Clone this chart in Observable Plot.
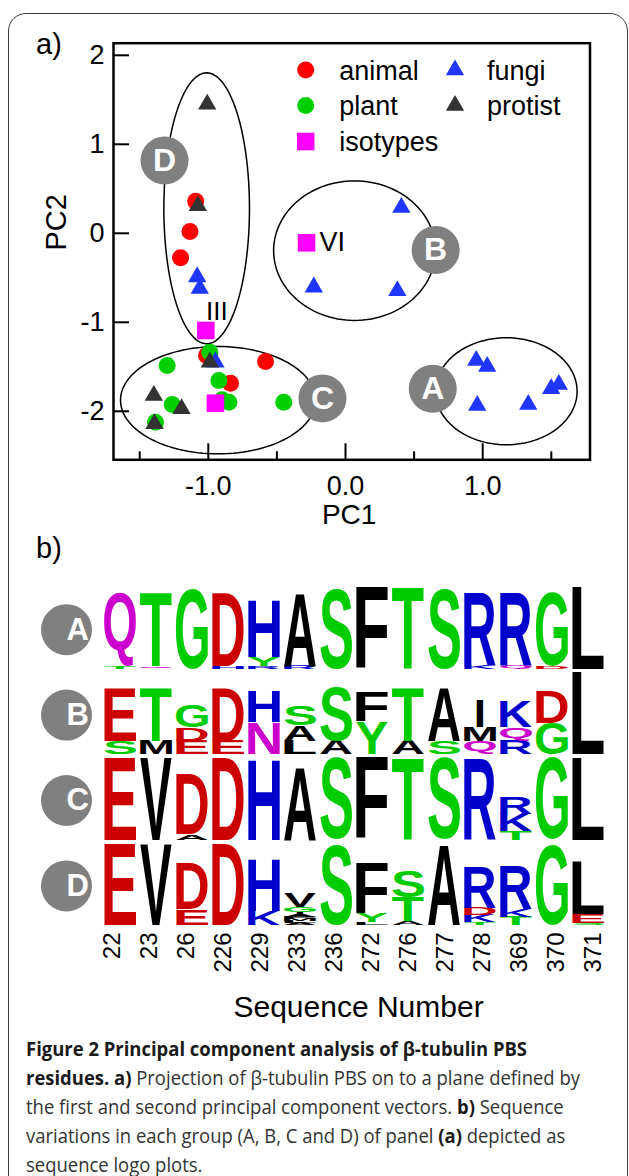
<!DOCTYPE html>
<html><head><meta charset="utf-8">
<script src="https://cdn.jsdelivr.net/npm/d3@7"></script>
<script src="https://cdn.jsdelivr.net/npm/@observablehq/plot@0.6"></script>
<style>
html,body{margin:0;padding:0;background:#fff;}
#page{position:relative;width:629px;height:1176px;overflow:hidden;background:#fff;font-family:"Liberation Sans",Arial,sans-serif;}
#border{position:absolute;left:8px;top:13px;width:620px;height:1230px;box-sizing:border-box;border:1.6px solid #3a3a3a;border-radius:18px;}
.abs{position:absolute;left:0;}
.panel{position:absolute;left:36px;font-size:29px;line-height:29px;color:#000;}
#caption{position:absolute;left:26px;top:1034px;font-family:"Open Sans",sans-serif;font-size:20px;line-height:29px;color:#333;white-space:nowrap;transform-origin:0 0;}
#caption b{color:#1a1a1a;font-weight:700;}
#caption div{white-space:nowrap;}
</style></head><body><div id="page">
<div id="border"></div>
<div class="panel" style="top:30px">a)</div>
<div class="panel" style="top:534px">b)</div>
<div id="scatter" class="abs" style="top:0"></div>
<div id="legend" class="abs" style="top:0"></div>
<div id="logo" class="abs" style="top:575px"></div>
<div id="seqlab" class="abs" style="top:900px"></div>
<div id="caption">
<div><b>Figure 2 Principal component analysis of β-tubulin PBS</b></div>
<div id="capline2"><b>residues. a)</b> Projection of β-tubulin PBS on to a plane defined by</div>
<div>the first and second principal component vectors. <b>b)</b> Sequence</div>
<div>variations in each group (A, B, C and D) of panel <b>(a)</b> depicted as</div>
<div>sequence logo plots.</div>
</div>
</div>
<script>
// ---------- Panel a) data: PC1, PC2 ----------
const animal  = [[-1.092,0.36],[-1.134,0.02],[-1.202,-0.275],[-1.013,-1.373],[-0.583,-1.44],[-0.838,-1.684]];
const plant   = [[-0.989,-1.336],[-1.3,-1.485],[-0.923,-1.654],[-0.9,-1.87],[-0.85,-1.898],[-0.45,-1.898],[-1.263,-1.924],[-1.385,-2.122]];
const fungi   = [[-1.081,-0.49],[-1.062,-0.62],[-0.948,-1.448],[-0.231,-0.605],[0.407,0.29],[0.378,-0.646],
                 [0.953,-1.429],[1.033,-1.497],[0.96,-1.935],[1.332,-1.924],[1.499,-1.747],[1.555,-1.699]];
const protist = [[-1.008,1.45],[-1.076,0.31],[-0.989,-1.448],[-1.397,-1.822],[-1.195,-1.972],[-1.392,-2.14]];
const isotypes = [[-0.284,-0.107,"VI"],[-1.018,-1.092,"III"],[-0.948,-1.909,""]];
// cluster outlines (centre, radii in PC units) and their badge positions
const clusterNames = ["A","B","C","D"];
const clusterEllipse = [[1.172,-1.775,0.516,0.601],[0.066,-0.195,0.59,0.784],[-0.929,-1.875,0.711,0.603],[-1.012,0.281,0.312,1.522]];
const clusterBadge = [[0.636,-1.747],[0.657,-0.188],[-0.168,-1.855],[-1.319,0.818]];
const xTickLabels = [-1,0,1];
const xMinorTicks = [-1.5,-0.5,0.5,1.5];
const yTickLabels = [-2,-1,0,1,2];

// ---------- Panel b) data: sequence logos (bottom -> top, bits) ----------
const positions = ["22","23","26","226","229","233","236","272","276","277","278","369","370","371"];
const logoA = [
 [["T",0.14],["Q",3.89]],[["Q",0.12],["T",3.92]],[["G",4.25]],[["H",0.15],["D",3.85]],
 [["R",0.15],["Y",0.48],["H",3.0]],[["R",0.17],["A",3.85]],[["S",4.28]],[["F",4.32]],
 [["T",4.32]],[["S",4.26]],[["K",0.17],["R",3.85]],[["Q",0.17],["R",3.85]],
 [["D",0.12],["G",3.92]],[["L",4.32]]
];
const logoB = [
 [["S",0.72],["E",2.8]],[["M",0.72],["T",2.8]],[["E",0.72],["D",0.7],["G",1.18]],[["E",0.72],["D",2.77]],
 [["N",1.68],["H",1.62]],[["L",0.72],["A",0.83],["S",1.06]],[["A",0.72],["S",2.85]],[["Y",1.71],["F",1.59]],
 [["A",0.72],["T",2.83]],[["S",0.72],["A",2.8]],[["Q",0.72],["M",0.72],["I",1.41]],[["R",0.72],["Q",0.72],["K",1.35]],
 [["G",1.64],["D",1.66]],[["L",4.32]]
];
const logoC = [
 [["E",4.32]],[["V",4.32]],[["A",0.3],["D",3.18]],[["D",4.32]],
 [["H",4.25]],[["A",3.85]],[["S",4.32]],[["F",4.32]],
 [["T",4.32]],[["S",4.32]],[["R",4.3]],[["T",0.44],["K",0.94],["R",0.88]],
 [["G",4.32]],[["L",4.32]]
];
const logoD = [
 [["E",4.28]],[["V",4.28]],[["E",0.83],["D",2.47]],[["D",4.28]],
 [["K",0.74],["H",2.74]],[["A",0.1],["L",0.1],["M",0.1],["F",0.1],["A",0.1],["I",0.2],["G",0.28],["V",0.72]],
 [["S",4.28]],[["L",0.15],["Y",0.45],["F",2.7]],
 [["A",0.2],["T",1.27],["S",1.38]],[["A",4.28]],[["T",0.16],["K",0.38],["D",0.38],["R",2.2]],
 [["T",0.45],["K",0.4],["R",2.3]],[["G",4.28]],[["S",0.12],["E",0.45],["L",2.75]]
];
const logoGroups = ["A","B","C","D"];
const logos = [logoA, logoB, logoC, logoD];

// ---------- styles ----------
const COL = {animal:"#ff0000", plant:"#00d000", fungi:"#1f36ff", protist:"#333333", iso:"#ff00ff", badge:"#808080"};
const AA = {G:"#00cc00",S:"#00cc00",T:"#00cc00",Y:"#00cc00",C:"#00cc00",Q:"#cc00cc",N:"#cc00cc",
            K:"#0000cc",R:"#0000cc",H:"#0000cc",D:"#cc0000",E:"#cc0000"};
const aaColor = c => AA[c] || "#000000";
const FONT = "Liberation Sans, Arial, sans-serif";

// ---------- Panel a) ----------
const pts = (arr) => arr.map(([x,y]) => ({x,y}));
const iso = isotypes.map(([x,y,label]) => ({x,y,label}));
const clusters = clusterNames.map((n,i) => ({name:n, cx:clusterEllipse[i][0], cy:clusterEllipse[i][1], rx:clusterEllipse[i][2], ry:clusterEllipse[i][3], bx:clusterBadge[i][0], by:clusterBadge[i][1]}));
const outline = clusters.flatMap(c => d3.range(0, 120).map(k => {
  const t = 2*Math.PI*k/120; return {name:c.name, x:c.cx + c.rx*Math.cos(t), y:c.cy + c.ry*Math.sin(t)};
}));
const mL = 113, mR = 39.5, mT = 42.7, mB = 85.7, W = 629, H = 545;
const fw = W - mL - mR, fh = H - mT - mB;

const scatter = Plot.plot({
  width: W, height: H, marginLeft: mL, marginRight: mR, marginTop: mT, marginBottom: mB,
  x: {domain: [-1.691, 1.782], ticks: xTickLabels, tickFormat: d => d.toFixed(1), tickSize: 0, tickPadding: 16, label: null},
  y: {domain: [-2.545, 2.136], ticks: yTickLabels, tickFormat: d => String(d), tickSize: 0, tickPadding: 9, label: null},
  style: {fontFamily: FONT, fontSize: "27px", color: "#000", background: "transparent"},
  marks: [
    Plot.line(outline, {x: "x", y: "y", z: "name", curve: "linear-closed", stroke: "#000", strokeWidth: 1.5}),
    Plot.dot(clusters, {x: "bx", y: "by", r: 24, fill: COL.badge}),
    Plot.text(clusters, {x: "bx", y: "by", text: "name", fill: "#fff", fontSize: 32, fontWeight: "bold"}),
    Plot.dot(pts(animal), {x: "x", y: "y", r: 8.5, fill: COL.animal}),
    Plot.dot(pts(plant), {x: "x", y: "y", r: 8.5, fill: COL.plant}),
    Plot.dot(pts(fungi), {x: "x", y: "y", r: 6.8, symbol: "triangle", fill: COL.fungi}),
    Plot.dot(pts(protist), {x: "x", y: "y", r: 6.8, symbol: "triangle", fill: COL.protist}),
    Plot.dot(iso, {x: "x", y: "y", r: 9.9, symbol: "square", fill: COL.iso}),
    Plot.text(iso.filter(d => d.label === "VI"), {x: "x", y: "y", text: "label", dx: 13, textAnchor: "start", fontSize: 27}),
    Plot.text(iso.filter(d => d.label === "III"), {x: "x", y: "y", text: "label", dx: 11, dy: -19, fontSize: 26}),
    Plot.ruleX(xTickLabels, {x: d => d, insetTop: fh - 16, stroke: "#000", strokeWidth: 2}),
    Plot.ruleX(xMinorTicks, {x: d => d, insetTop: fh - 8, stroke: "#000", strokeWidth: 2}),
    Plot.ruleY(yTickLabels, {y: d => d, insetRight: fw - 16, stroke: "#000", strokeWidth: 2}),
    Plot.frame({stroke: "#000", strokeWidth: 2.5}),
    Plot.text(["PC1"], {text: d => d, frameAnchor: "bottom", dx: -2.6, dy: 64, fontSize: 28}),
    Plot.text(["PC2"], {text: d => d, frameAnchor: "left", dx: -57, dy: -1, rotate: -90, fontSize: 29})
  ]
});
document.getElementById("scatter").appendChild(scatter);

// legend (HTML-side overlay)
(function(){
  const items = [
    {t:"animal", s:"circle", c:COL.animal, x:305.7, y:70, tx:339.3},
    {t:"plant", s:"circle", c:COL.plant, x:305.7, y:105.5, tx:339.3},
    {t:"isotypes", s:"square", c:COL.iso, x:305.7, y:141.5, tx:339.3},
    {t:"fungi", s:"triangle", c:COL.fungi, x:455, y:70, tx:487},
    {t:"protist", s:"triangle", c:COL.protist, x:455, y:105.5, tx:487}
  ];
  const svg = d3.select("#legend").append("svg").attr("width", 629).attr("height", 170)
    .style("font-family", FONT).style("font-size", "27px");
  const sym = {circle: d3.symbolCircle, square: d3.symbolSquare, triangle: d3.symbolTriangle};
  const size = {circle: Math.PI*8.5*8.5, square: Math.PI*9.9*9.9, triangle: Math.PI*6.8*6.8};
  for (const it of items) {
    svg.append("path").attr("d", d3.symbol(sym[it.s], size[it.s])()).attr("transform", `translate(${it.x},${it.y})`).attr("fill", it.c);
    svg.append("text").attr("x", it.tx).attr("y", it.y).attr("dy", "0.36em").text(it.t);
  }
})();

// ---------- Panel b) logo ----------
const BITS_FULL = 4.32, ROW_PITCH = 4.53, BADGE_LEVEL = 2.1;
const letters = [];
logos.forEach((logo, gi) => {
  const base = (logos.length - 1 - gi) * ROW_PITCH;
  logo.forEach((col, pi) => {
    let acc = base;
    for (const [ch, h] of col) {
      letters.push({group: logoGroups[gi], pos: positions[pi], ch, y0: acc, y1: acc + h, color: aaColor(ch)});
      acc += h;
    }
  });
});
const rows = logoGroups.map((g, gi) => ({g, level: (logos.length - 1 - gi) * ROW_PITCH + BADGE_LEVEL}));
const logoPlot = Plot.plot({
  width: 629, height: 360, marginLeft: 101.2, marginRight: 21.9, marginTop: 12.3, marginBottom: 10,
  x: {type: "band", domain: positions, paddingInner: 0.1, paddingOuter: 0.05, axis: null},
  y: {domain: [0, 3*ROW_PITCH + BITS_FULL], axis: null},
  color: {type: "identity"},
  style: {fontFamily: FONT, background: "transparent"},
  marks: [
    Plot.barY(letters, {x: "pos", y1: "y0", y2: "y1", fill: "white", fillOpacity: 0}),
    Plot.text(letters, {x: "pos", y: "y0", text: "ch", fill: "color", fontSize: 100, fontWeight: "bold", fontFamily: "Liberation Sans"}),
    Plot.dot(rows, {y: "level", frameAnchor: "left", dx: -35.2, r: 25.5, fill: COL.badge}),
    Plot.text(rows, {y: "level", text: "g", frameAnchor: "left", dx: -35.2, fill: "#fff", fontSize: 31, fontWeight: "bold"})
  ]
});
document.getElementById("logo").appendChild(logoPlot);
(function stretchLetters(){
  const boxes = Array.from(logoPlot.querySelectorAll("rect")).filter(r => r.closest("g") && r.parentNode !== logoPlot);
  const glyphs = Array.from(logoPlot.querySelectorAll("text")).slice(0, letters.length);
  const ctx = document.createElement("canvas").getContext("2d");
  ctx.font = "bold 100px 'Liberation Sans'";
  const n = Math.min(boxes.length, glyphs.length);
  for (let i = 0; i < n; i++) {
    try {
      const r = boxes[i].getBoundingClientRect();
      const t = glyphs[i];
      const inv = t.parentNode.getScreenCTM().inverse();
      let p0 = new DOMPoint(r.left, r.top).matrixTransform(inv);
      let p1 = new DOMPoint(r.right, r.bottom).matrixTransform(inv);
      if (t.textContent === "I") { // narrow letter keeps a slim stem
        const cx = (p0.x + p1.x) / 2, hw = (p1.x - p0.x) * 0.11;
        p0 = new DOMPoint(cx - hw, p0.y); p1 = new DOMPoint(cx + hw, p1.y);
      }
      const m = ctx.measureText(t.textContent);
      const L = m.actualBoundingBoxLeft, R = m.actualBoundingBoxRight, A = m.actualBoundingBoxAscent, D = m.actualBoundingBoxDescent;
      const sx = (p1.x - p0.x) / (L + R), sy = (p1.y - p0.y) / (A + D);
      ["x","y","dy","dx"].forEach(a => t.removeAttribute(a));
      t.setAttribute("text-anchor", "start");
      t.setAttribute("dominant-baseline", "alphabetic");
      t.setAttribute("transform", `translate(${p0.x},${p0.y}) scale(${sx},${sy}) translate(${L},${A})`);
    } catch (e) { console.error(e); }
  }
})();

// ---------- position labels + axis title ----------
const seq = Plot.plot({
  width: 629, height: 140, marginLeft: 109.8, marginRight: 33.5, marginTop: 0, marginBottom: 112,
  x: {type: "point", domain: positions, padding: 0, tickRotate: -90, tickSize: 0, tickPadding: 4, label: null},
  style: {fontFamily: FONT, fontSize: "24px", color: "#000", background: "transparent"},
  marks: [
    Plot.ruleX(positions, {x: d => d, stroke: "none"}),
    Plot.text(["Sequence Number"], {text: d => d, frameAnchor: "bottom", dx: 5.4, dy: 88, fontSize: 30})
  ]
});
document.getElementById("seqlab").appendChild(seq);

// caption width fit
(function(){
  const cap = document.getElementById("caption");
  const l2 = document.getElementById("capline2");
  const range = document.createRange(); range.selectNodeContents(l2);
  const tw = range.getBoundingClientRect().width;
  if (tw > 0) cap.style.transform = `scaleX(${554 / tw})`;
})();
</script>
</body></html>
